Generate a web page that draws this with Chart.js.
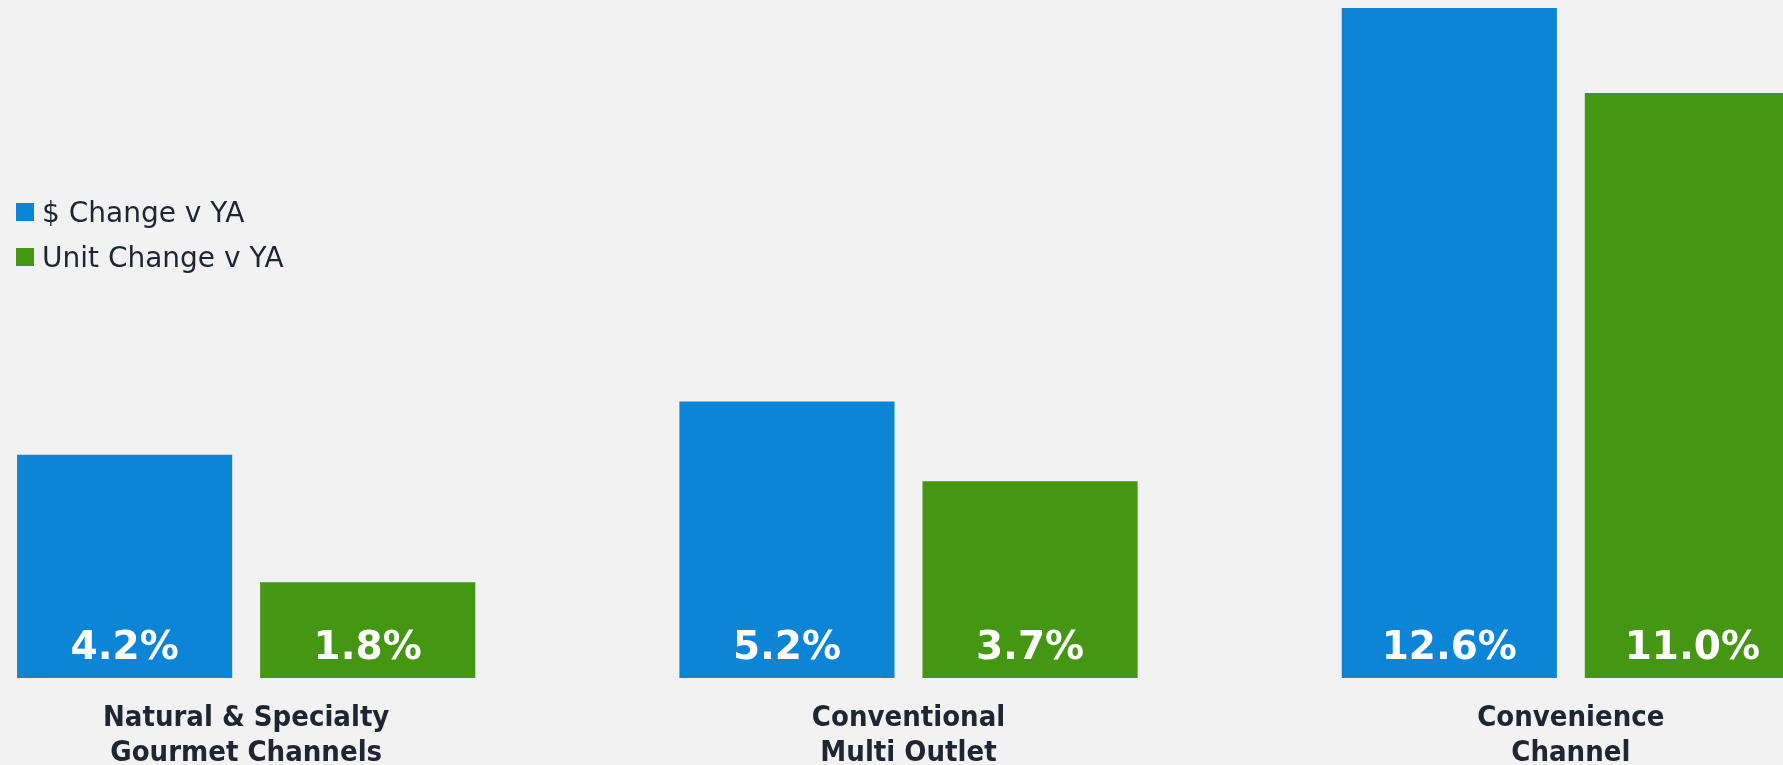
<!DOCTYPE html>
<html>
<head>
<meta charset="utf-8">
<script src="https://cdn.jsdelivr.net/npm/chart.js@4/dist/chart.umd.min.js"></script>
<style>
  html, body { margin: 0; padding: 0; background: #f2f2f2; overflow: hidden; }
  #wrap { position: relative; width: 1783px; height: 765px; overflow: hidden; background: #f2f2f2; }
  #chart { position: absolute; left: -85px; top: 0; }
  #legend { position: absolute; left: 16px; top: 199px; font-family: "DejaVu Sans", sans-serif; font-size: 28px; line-height: 28px; color: #1e2533; }
  .item { position: relative; height: 28px; margin-bottom: 17px; padding-left: 26px; white-space: nowrap; }
  .swatch { position: absolute; left: 0; top: 4px; width: 18px; height: 18px; }
</style>
</head>
<body>
<div id="wrap">
  <canvas id="chart" width="1987" height="765"></canvas>
  <div id="legend"></div>
</div>
<script>
// Channels on the x axis (two-line labels)
const categories = [
  ["Natural & Specialty", "Gourmet Channels"],
  ["Conventional", "Multi Outlet"],
  ["Convenience", "Channel"]
];
// Percent change versus year ago
const dollarChange = [4.2, 5.2, 12.6];
const unitChange = [1.8, 3.7, 11.0];
const seriesNames = ["$ Change v YA", "Unit Change v YA"];
const seriesColors = ["#0d85d6", "#459612"];

const labelFont = '"DejaVu Sans Condensed", "DejaVu Sans", sans-serif';

// White value labels sitting near the bottom of each bar
const valueLabels = {
  id: 'valueLabels',
  afterDatasetsDraw(chart) {
    const ctx = chart.ctx;
    ctx.save();
    ctx.fillStyle = '#ffffff';
    ctx.font = 'bold 39px "DejaVu Sans", sans-serif';
    ctx.textAlign = 'center';
    ctx.textBaseline = 'alphabetic';
    chart.data.datasets.forEach((ds, di) => {
      chart.getDatasetMeta(di).data.forEach((bar, i) => {
        ctx.fillText(ds.data[i].toFixed(1) + '%', bar.x, bar.base - 19);
      });
    });
    ctx.restore();
  }
};

const chart = new Chart(document.getElementById('chart'), {
  type: 'bar',
  data: {
    labels: categories,
    datasets: [
      { label: seriesNames[0], data: dollarChange, backgroundColor: seriesColors[0] },
      { label: seriesNames[1], data: unitChange, backgroundColor: seriesColors[1] }
    ]
  },
  options: {
    responsive: false,
    animation: false,
    devicePixelRatio: 1,
    layout: { padding: 0 },
    categoryPercentage: 0.734,
    barPercentage: 0.885,
    plugins: { legend: { display: false }, tooltip: { enabled: false } },
    scales: {
      x: {
        grid: { display: false, drawTicks: false },
        border: { display: false },
        ticks: {
          padding: 23,
          color: '#1e2533',
          font: { family: labelFont, size: 29, weight: 'bold', lineHeight: 35 / 29 },
          maxRotation: 0,
          autoSkip: false
        },
        afterFit(scale) { scale.height = 87; }
      },
      y: {
        display: false,
        min: 0,
        max: 12.75
      }
    }
  },
  plugins: [valueLabels]
});

// Legend built from the series names and colours
const legend = document.getElementById('legend');
seriesNames.forEach((name, i) => {
  const item = document.createElement('div');
  item.className = 'item';
  const sw = document.createElement('span');
  sw.className = 'swatch';
  sw.style.background = seriesColors[i];
  item.appendChild(sw);
  item.appendChild(document.createTextNode(name));
  legend.appendChild(item);
});
</script>
</body>
</html>
